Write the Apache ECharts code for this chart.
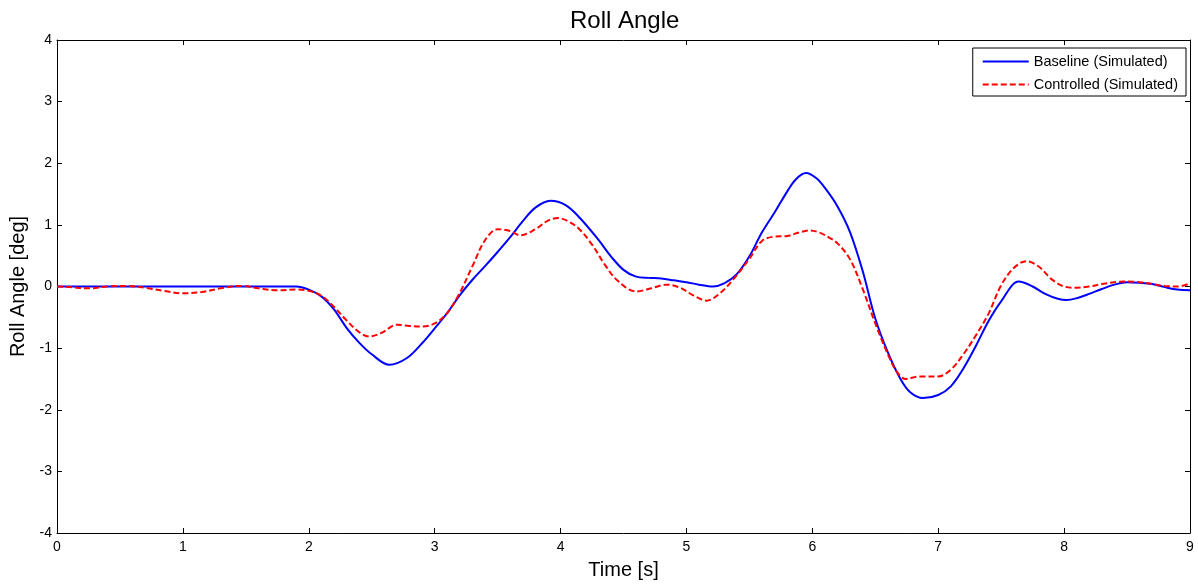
<!DOCTYPE html>
<html>
<head>
<meta charset="utf-8">
<script src="https://cdn.jsdelivr.net/npm/echarts@6/dist/echarts.min.js"></script>
<style>
html,body{margin:0;padding:0;background:#fff;}
#chart{width:1198px;height:585px;}
</style>
</head>
<body>
<div id="chart"></div>
<script>
// Baseline (Simulated): time [s] and roll angle [deg]
const baselineTime = [0, 0.5, 1.0, 1.5, 1.9, 2.0, 2.1, 2.2, 2.3, 2.4, 2.5, 2.64, 2.78, 2.9, 3.0, 3.1, 3.2, 3.3, 3.4, 3.5, 3.6, 3.7, 3.8, 3.92, 4.04, 4.15, 4.3, 4.4, 4.5, 4.6, 4.7, 4.8, 4.9, 5.0, 5.1, 5.21, 5.3, 5.4, 5.5, 5.6, 5.7, 5.8, 5.87, 5.95, 6.03, 6.1, 6.2, 6.3, 6.4, 6.5, 6.6, 6.7, 6.78, 6.88, 7.0, 7.1, 7.2, 7.3, 7.4, 7.5, 7.64, 7.75, 7.85, 7.95, 8.02, 8.1, 8.2, 8.3, 8.4, 8.5, 8.6, 8.7, 8.8, 8.9, 9.0];
const baselineValues = [0, 0, 0, 0, 0, -0.05, -0.16, -0.37, -0.67, -0.91, -1.10, -1.27, -1.16, -0.92, -0.68, -0.43, -0.14, 0.11, 0.33, 0.56, 0.80, 1.06, 1.28, 1.39, 1.32, 1.12, 0.76, 0.49, 0.27, 0.16, 0.14, 0.13, 0.10, 0.07, 0.03, 0.00, 0.05, 0.20, 0.49, 0.88, 1.20, 1.54, 1.74, 1.84, 1.76, 1.60, 1.30, 0.88, 0.25, -0.52, -1.07, -1.50, -1.72, -1.81, -1.76, -1.62, -1.33, -0.96, -0.56, -0.24, 0.08, 0.00, -0.12, -0.20, -0.22, -0.19, -0.12, -0.04, 0.03, 0.07, 0.06, 0.04, -0.01, -0.05, -0.06];

// Controlled (Simulated): time [s] and roll angle [deg]
const controlledTime = [0, 0.1, 0.25, 0.4, 0.55, 0.7, 0.85, 1.0, 1.15, 1.3, 1.46, 1.6, 1.75, 1.9, 2.0, 2.1, 2.2, 2.3, 2.4, 2.48, 2.58, 2.7, 2.8, 2.9, 3.0, 3.1, 3.2, 3.3, 3.4, 3.5, 3.6, 3.68, 3.8, 3.9, 3.98, 4.06, 4.15, 4.25, 4.35, 4.45, 4.6, 4.72, 4.84, 4.95, 5.05, 5.16, 5.26, 5.37, 5.5, 5.6, 5.7, 5.8, 5.9, 5.98, 6.05, 6.12, 6.2, 6.3, 6.4, 6.5, 6.6, 6.67, 6.74, 6.85, 7.0, 7.1, 7.2, 7.3, 7.4, 7.5, 7.6, 7.7, 7.8, 7.9, 8.0, 8.1, 8.2, 8.3, 8.4, 8.5, 8.6, 8.7, 8.8, 8.9, 9.0];
const controlledValues = [0.00, -0.01, -0.03, 0.00, 0.01, -0.02, -0.07, -0.11, -0.09, -0.03, 0.01, -0.03, -0.06, -0.05, -0.07, -0.15, -0.33, -0.55, -0.74, -0.81, -0.75, -0.62, -0.64, -0.65, -0.60, -0.43, -0.10, 0.33, 0.75, 0.93, 0.90, 0.83, 0.93, 1.07, 1.11, 1.06, 0.93, 0.68, 0.36, 0.10, -0.08, -0.03, 0.03, -0.02, -0.14, -0.23, -0.12, 0.11, 0.45, 0.74, 0.81, 0.82, 0.88, 0.91, 0.88, 0.81, 0.70, 0.44, -0.04, -0.60, -1.10, -1.38, -1.50, -1.46, -1.46, -1.35, -1.10, -0.79, -0.44, 0.02, 0.30, 0.41, 0.32, 0.12, 0.00, -0.02, 0.00, 0.04, 0.07, 0.08, 0.07, 0.04, 0.01, 0.00, 0.05];

const seriesNames = ['Baseline (Simulated)', 'Controlled (Simulated)'];
const xTicks = [0, 9, 1];
const yTicks = [-4, 4, 1];

const FONT = 'Arial, "Liberation Sans", sans-serif';
const zip = (t, v) => t.map((x, i) => [x, v[i]]);

const chart = echarts.init(document.getElementById('chart'));
const axisBase = {
  type: 'value',
  axisLine: { show: true, onZero: false, lineStyle: { color: '#000', width: 1 } },
  axisTick: { show: true, inside: true, length: 5, lineStyle: { color: '#000' } },
  splitLine: { show: false }
};
chart.setOption({
  animation: false,
  backgroundColor: '#fff',
  title: {
    text: 'Roll Angle', left: 565, top: 4,
    textStyle: { fontFamily: FONT, fontSize: 24, fontWeight: 'normal', color: '#000' }
  },
  grid: { left: 57, right: 8, top: 40, bottom: 51, containLabel: false },
  legend: {
    orient: 'vertical', right: 12, top: 48,
    backgroundColor: '#fff', borderColor: '#000', borderWidth: 1,
    padding: [6, 8, 4, 9], itemGap: 8, itemWidth: 46, itemHeight: 14,
    itemStyle: { opacity: 0 },
    textStyle: { fontFamily: FONT, fontSize: 14.5, color: '#000' },
    data: seriesNames
  },
  xAxis: [
    Object.assign({}, axisBase, {
      min: xTicks[0], max: xTicks[1], interval: xTicks[2], position: 'bottom',
      name: 'Time [s]', nameLocation: 'middle', nameGap: 27,
      nameTextStyle: { fontFamily: FONT, fontSize: 20, color: '#000' },
      axisLabel: { fontFamily: FONT, fontSize: 14, color: '#000', margin: 7 }
    }),
    Object.assign({}, axisBase, {
      min: xTicks[0], max: xTicks[1], interval: xTicks[2], position: 'top',
      axisLabel: { show: false }
    })
  ],
  yAxis: [
    Object.assign({}, axisBase, {
      min: yTicks[0], max: yTicks[1], interval: yTicks[2], position: 'left',
      name: 'Roll Angle [deg]', nameLocation: 'middle', nameGap: 26,
      nameTextStyle: { fontFamily: FONT, fontSize: 20, color: '#000' },
      axisLabel: { fontFamily: FONT, fontSize: 14, color: '#000', margin: 5 }
    }),
    Object.assign({}, axisBase, {
      min: yTicks[0], max: yTicks[1], interval: yTicks[2], position: 'right',
      axisLabel: { show: false }
    })
  ],
  series: [
    {
      name: seriesNames[0], type: 'line', symbol: 'none', smooth: 0.35,
      data: zip(baselineTime, baselineValues),
      lineStyle: { color: '#0000ff', width: 2 }, itemStyle: { color: '#0000ff' }, z: 2
    },
    {
      name: seriesNames[1], type: 'line', symbol: 'none', smooth: 0.35,
      data: zip(controlledTime, controlledValues),
      lineStyle: { color: '#ff0000', width: 2, type: [6, 3] }, itemStyle: { color: '#ff0000' }, z: 3
    }
  ]
});
</script>
</body>
</html>
